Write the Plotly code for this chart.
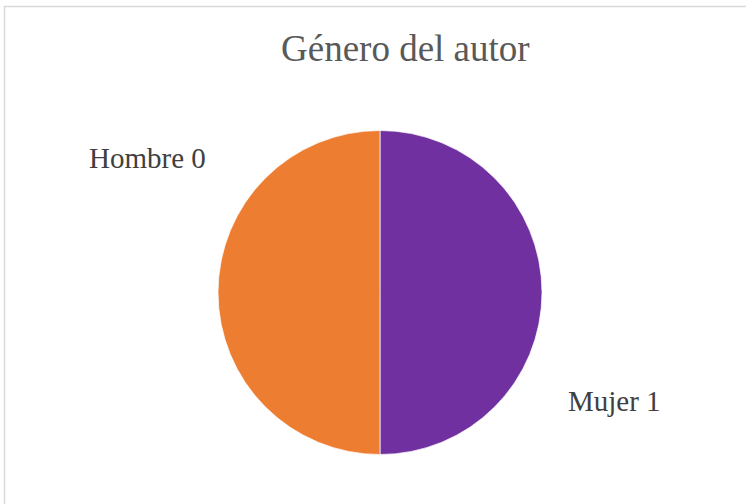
import plotly.graph_objects as go

categories = ["Mujer", "Hombre"]
codes = ["1", "0"]
values = [1, 1]
colors = ["#7030A0", "#ED7D31"]
title_text = "Género del autor"

W, H = 746, 504

fig = go.Figure(go.Pie(
    labels=[f"{c} {k}" for c, k in zip(categories, codes)],
    values=values,
    sort=False,
    direction="clockwise",
    marker=dict(colors=colors, line=dict(color="white", width=0.7)),
    textinfo="none",
    hoverinfo="label+value",
    showlegend=False,
    domain=dict(x=[(380 - 162) / W, (380 + 162) / W],
                y=[(211.5 - 162) / H, (211.5 + 162) / H]),
))

label_pos = [(614, 401), (147, 158)]
annotations = [
    dict(text=f"{c} {k}", x=px / W, y=1 - py / H, xref="paper", yref="paper",
         showarrow=False, xanchor="center", yanchor="middle",
         font=dict(family="Liberation Serif", size=29, color="#404040"))
    for (c, k), (px, py) in zip(zip(categories, codes), label_pos)
]
annotations.append(dict(
    text=title_text, x=405 / W, y=1 - 49 / H, xref="paper", yref="paper",
    showarrow=False, xanchor="center", yanchor="middle",
    font=dict(family="Liberation Serif", size=37, color="#595959")))

fig.update_layout(
    width=W, height=H,
    margin=dict(l=0, r=0, t=0, b=0),
    paper_bgcolor="white",
    plot_bgcolor="white",
    annotations=annotations,
    shapes=[dict(type="rect", xref="paper", yref="paper",
                 x0=4.5 / W, x1=1.05, y0=-0.05, y1=1 - 6.5 / H,
                 line=dict(color="#D9D9D9", width=1.5), layer="below")],
)

fig.write_html("out.html", config={"displayModeBar": False},
               post_script="document.body.style.margin='0';document.body.style.overflow='hidden';")
